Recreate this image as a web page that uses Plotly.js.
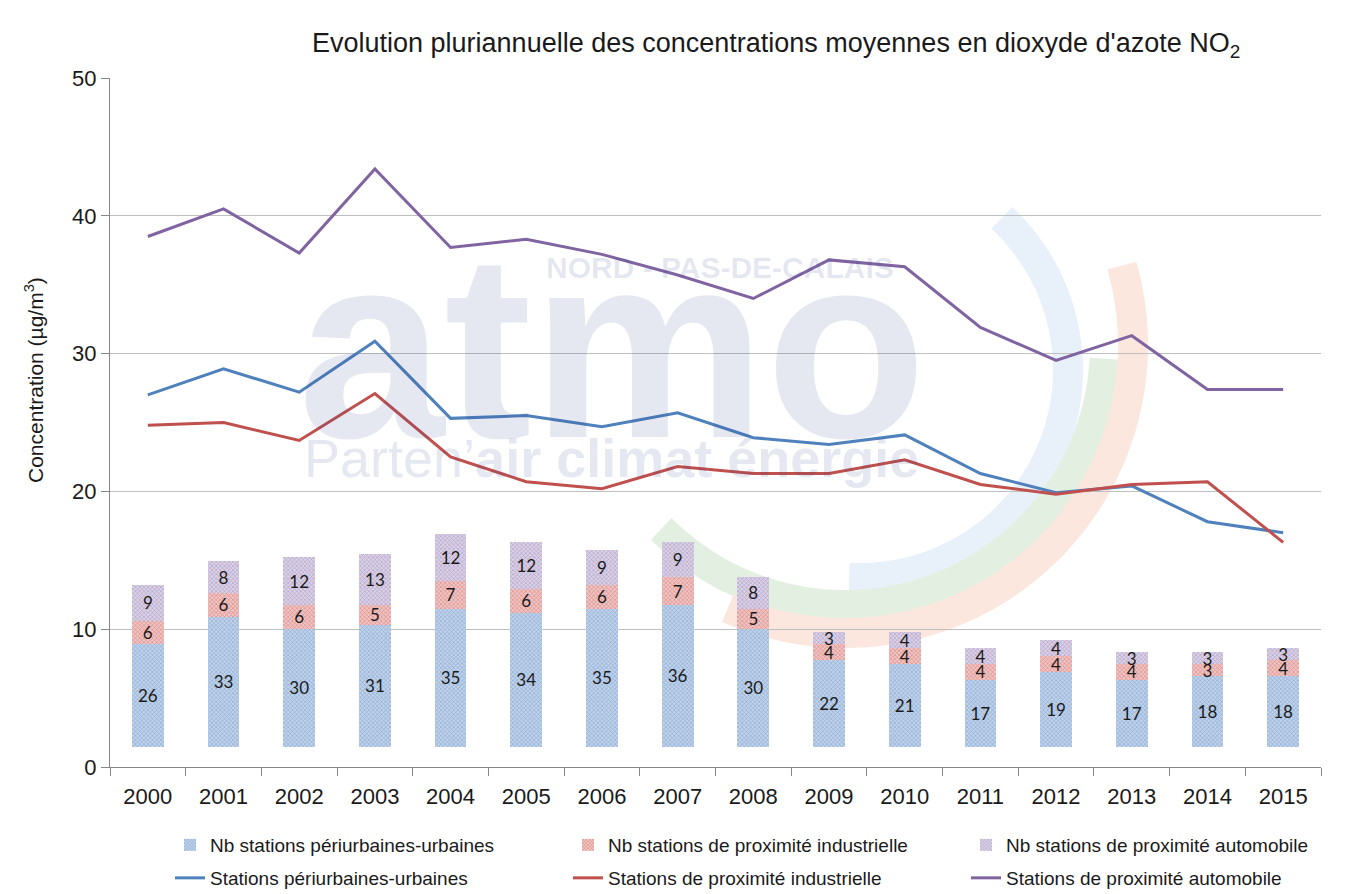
<!DOCTYPE html>
<html>
<head>
<meta charset="utf-8">
<script src="https://cdn.plot.ly/plotly-3.0.1.min.js"></script>
<style>
html,body{margin:0;padding:0;background:#fff;}
#chart{width:1364px;height:894px;}
</style>
</head>
<body>
<div id="chart"></div>
<script>
// ---- data ----
var years = ["2000","2001","2002","2003","2004","2005","2006","2007","2008","2009","2010","2011","2012","2013","2014","2015"];

var nbPeriurbaines = [26,33,30,31,35,34,35,36,30,22,21,17,19,17,18,18];
var nbIndustrielle = [6,6,6,5,7,6,6,7,5,4,4,4,4,4,3,4];
var nbAutomobile   = [9,8,12,13,12,12,9,9,8,3,4,4,4,3,3,3];

var concPeriurbaines = [27.0,28.9,27.2,30.9,25.3,25.5,24.7,25.7,23.9,23.4,24.1,21.3,19.9,20.4,17.8,17.0];
var concIndustrielle = [24.8,25.0,23.7,27.1,22.5,20.7,20.2,21.8,21.3,21.3,22.3,20.5,19.8,20.5,20.7,16.3];
var concAutomobile   = [38.5,40.5,37.3,43.4,37.7,38.3,37.2,35.7,34.0,36.8,36.3,31.9,29.5,31.3,27.4,27.4];

var barNames  = ["Nb stations périurbaines-urbaines","Nb stations de proximité industrielle","Nb stations de proximité automobile"];
var lineNames = ["Stations périurbaines-urbaines","Stations de proximité industrielle","Stations de proximité automobile"];

// ---- styles ----
var barFg = ["#86A5D2","#D68784","#AE9DC6"];
var barBg = ["#C0D2EA","#F0C4C2","#DAD1E6"];
var lineColors = ["#4F81BD","#C0504D","#8064A2"];
var barData = [nbPeriurbaines, nbIndustrielle, nbAutomobile];
var lineData = [concPeriurbaines, concIndustrielle, concAutomobile];

var traces = [];
for (var i = 0; i < 3; i++) {
  traces.push({
    type: "bar",
    x: years,
    y: barData[i],
    name: barNames[i],
    yaxis: "y2",
    legend: "legend",
    marker: {
      color: barBg[i],
      line: {width: 0},
      pattern: {shape: "x", fgcolor: barFg[i], bgcolor: barBg[i], size: 3, solidity: 0.35, fillmode: "replace"}
    },
    text: barData[i].map(String),
    texttemplate: "%{text}",
    textposition: "inside",
    insidetextanchor: "middle",
    textangle: 0,
    constraintext: "none",
    textfont: {family: "Lato, 'Open Sans', sans-serif", size: 17, color: "#1a1a1a"},
    hoverinfo: "x+y+name"
  });
}
for (var j = 0; j < 3; j++) {
  traces.push({
    type: "scatter",
    mode: "lines",
    x: years,
    y: lineData[j],
    name: lineNames[j],
    yaxis: "y",
    legend: "legend2",
    line: {color: lineColors[j], width: 3}
  });
}

// ---- decorative logo watermark (pixel -> paper helpers) ----
var W = 1364, H = 894, ML = 110, MR = 43, MT = 78, MB = 127;
var PW = W - ML - MR, PH = H - MT - MB;
function px(x) { return (x - ML) / PW; }
function py(y) { return (H - MB - y) / PH; }
function arcPath(cx, cy, r, a0, a1) {
  var s = "", n = 60;
  for (var k = 0; k <= n; k++) {
    var a = (a0 + (a1 - a0) * k / n) * Math.PI / 180;
    var X = px(cx + r * Math.cos(a)), Y = py(cy + r * Math.sin(a));
    s += (k === 0 ? "M" : "L") + X.toFixed(5) + "," + Y.toFixed(5);
  }
  return s;
}
var logoArcs = [
  {cx: 860, cy: 370, r: 208, a0: -47, a1: 93, color: "#E8F1FA"},
  {cx: 845, cy: 345, r: 260, a0: 3, a1: 135, color: "#E3F0E1"},
  {cx: 845, cy: 345, r: 288, a0: -16, a1: 114, color: "#FCE7DF"}
];
var shapes = logoArcs.map(function (a) {
  return {type: "path", xref: "paper", yref: "paper", layer: "below",
          path: arcPath(a.cx, a.cy, a.r, a.a0, a.a1),
          line: {color: a.color, width: 30}};
});

var wmColor = "rgba(40,60,140,0.12)";
var layout = {
  width: W,
  height: H,
  margin: {l: ML, r: MR, t: MT, b: MB, autoexpand: false},
  paper_bgcolor: "#ffffff",
  plot_bgcolor: "rgba(0,0,0,0)",
  font: {family: "'Liberation Sans', Arial, sans-serif", color: "#1a1a1a"},
  title: {
    text: "Evolution pluriannuelle des concentrations moyennes en dioxyde d'azote NO<sub>2</sub>",
    font: {size: 27, color: "#1a1a1a"},
    x: 0.569, xanchor: "center", xref: "container",
    y: 0.952, yanchor: "middle", yref: "container"
  },
  barmode: "stack",
  bargap: 0.58,
  xaxis: {
    type: "category",
    range: [-0.5, 15.5],
    showline: true, linecolor: "#868686", linewidth: 1,
    ticks: "outside", tickson: "boundaries", ticklen: 8, tickcolor: "#868686",
    ticklabelstandoff: 10,
    tickfont: {size: 22, color: "#1a1a1a"},
    showgrid: false, zeroline: false, fixedrange: true
  },
  yaxis: {
    range: [0, 50],
    tickvals: [0,10,20,30,40,50],
    showline: true, linecolor: "#868686", linewidth: 1,
    ticks: "outside", ticklen: 8, tickcolor: "#868686",
    tickfont: {size: 22, color: "#1a1a1a"},
    showgrid: true, gridcolor: "#BFBFBF", gridwidth: 1,
    zeroline: false
  },
  yaxis2: {
    overlaying: "y", side: "right", visible: false,
    range: [-5.06, 169.4], showgrid: false, zeroline: false
  },
  legend: {
    orientation: "h", x: px(170), xanchor: "left", y: py(845), yanchor: "middle",
    entrywidth: 353, entrywidthmode: "pixels",
    font: {size: 19, color: "#1a1a1a"}, bgcolor: "rgba(0,0,0,0)", traceorder: "normal"
  },
  legend2: {
    orientation: "h", x: px(170), xanchor: "left", y: py(878), yanchor: "middle",
    entrywidth: 353, entrywidthmode: "pixels",
    font: {size: 19, color: "#1a1a1a"}, bgcolor: "rgba(0,0,0,0)", traceorder: "normal"
  },
  shapes: shapes,
  annotations: [
    {text: "<b>atmo</b>", xref: "paper", yref: "paper", x: px(612), y: py(346), xanchor: "center", yanchor: "middle",
     showarrow: false, font: {size: 263, color: wmColor}},
    {text: "<b>NORD - PAS-DE-CALAIS</b>", xref: "paper", yref: "paper", x: px(720), y: py(267), xanchor: "center", yanchor: "middle",
     showarrow: false, font: {size: 30, color: wmColor}},
    {text: "Parten’<b>air climat énergie</b>", xref: "paper", yref: "paper", x: px(611), y: py(458), xanchor: "center", yanchor: "middle",
     showarrow: false, font: {size: 54, color: wmColor}},
    {text: "Concentration (µg/m<sup>3</sup>)", xref: "paper", yref: "paper", x: px(34), y: py(380),
     xanchor: "center", yanchor: "middle", textangle: -90, showarrow: false,
     font: {size: 21, color: "#1a1a1a"}}
  ],
  showlegend: true
};

Plotly.newPlot("chart", traces, layout, {displayModeBar: false, responsive: false});
</script>
</body>
</html>
